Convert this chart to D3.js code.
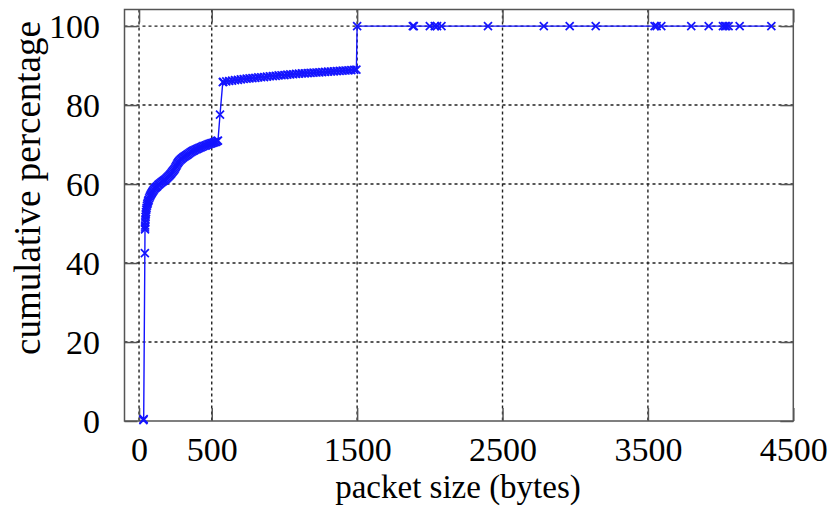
<!DOCTYPE html>
<html>
<head>
<meta charset="utf-8">
<script src="https://cdn.jsdelivr.net/npm/d3@7/dist/d3.min.js"></script>
<style>
  html, body { margin: 0; padding: 0; background: #fff; }
  svg { display: block; font-family: "Liberation Serif", "DejaVu Serif", serif; }
</style>
</head>
<body>
<svg id="chart" width="835" height="506"></svg>
<script>
// ---- data ----
const packetSizes = [
  30, 32, 40, 41, 41.5, 42, 43, 44, 45, 46, 48, 50, 52, 54, 57, 60, 63, 66, 70, 74, 78, 82,
  87, 92, 97, 102, 108, 114, 120, 126, 133, 140, 147, 154, 161, 168, 175, 182, 189, 196,
  203, 210, 216, 222, 228, 234, 240, 246, 251, 256, 261, 266, 272, 278, 285, 292, 299, 306,
  314, 322, 330, 338, 346, 354, 362, 370, 379, 388, 397, 406, 415, 424, 433, 442, 451, 460,
  469, 478, 487, 496, 504, 512, 520, 528, 536, 543, 557, 576,
  580, 600, 620, 640, 660, 680, 700, 720, 740, 760, 780, 800, 820, 840, 860, 880, 900,
  920, 940, 960, 980, 1000, 1020, 1040, 1060, 1080, 1100, 1120, 1140, 1160, 1180, 1200,
  1220, 1240, 1260, 1280, 1300, 1320, 1340, 1360, 1380, 1400, 1420, 1440, 1460, 1480, 1495,
  1500, 1883, 1890, 2000, 2034, 2050, 2080, 2400, 2784, 2962, 3141, 3546, 3560, 3592,
  3798, 3918, 4016, 4030, 4039, 4055, 4131, 4349
];
const cumulativePct = [
  0.2, 0.5, 42.5, 48.5, 49.0, 49.5, 50.3, 51.0, 51.7, 52.3, 52.9, 53.5, 54.0, 54.5, 54.9, 55.3, 55.7, 56.0, 56.4, 56.8, 57.1, 57.4,
  57.7, 58.0, 58.3, 58.6, 58.9, 59.1, 59.3, 59.5, 59.8, 60.0, 60.2, 60.4, 60.6, 60.8, 61.0, 61.2, 61.45, 61.7,
  61.95, 62.2, 62.45, 62.7, 63.0, 63.3, 63.6, 63.9, 64.25, 64.6, 64.95, 65.3, 65.6, 65.9, 66.15, 66.4, 66.6, 66.8,
  67.0, 67.2, 67.4, 67.6, 67.8, 68.0, 68.2, 68.4, 68.55, 68.7, 68.85, 69.0, 69.15, 69.3, 69.45, 69.6, 69.7, 69.8,
  69.95, 70.1, 70.2, 70.3, 70.4, 70.5, 70.6, 70.7, 70.85, 71.0, 77.6, 85.8,
  85.9, 86.0, 86.1, 86.2, 86.3, 86.4, 86.5, 86.6, 86.7, 86.75, 86.8, 86.9, 87.0, 87.05, 87.1, 87.2, 87.3,
  87.35, 87.4, 87.5, 87.55, 87.6, 87.7, 87.75, 87.8, 87.9, 87.95, 88.0, 88.05, 88.1, 88.15, 88.2,
  88.25, 88.3, 88.35, 88.4, 88.45, 88.5, 88.55, 88.6, 88.65, 88.7, 88.75, 88.8, 88.85, 88.9, 89.0,
  100, 100, 100, 100, 100, 100, 100, 100, 100, 100, 100, 100, 100, 100,
  100, 100, 100, 100, 100, 100, 100, 100
];
const xTickValues = [0, 500, 1500, 2500, 3500, 4500];
const yTickValues = [0, 20, 40, 60, 80, 100];
const xTitle = "packet size (bytes)";
const yTitle = "cumulative percentage";

// ---- layout ----
const svg = d3.select("#chart");
const frame = { left: 124.5, right: 793.3, top: 9.5, bottom: 421 };
const x = d3.scaleLinear().domain([-100, 4500]).range([frame.left, frame.right]);
const y = d3.scaleLinear().domain([0, 104.2]).range([frame.bottom, frame.top]);
const points = packetSizes.map((s, i) => [s, cumulativePct[i]]);

const gridColor = "#222";
const frameColor = "#555";
const blue = "#1414ff";
const fontSize = 34;
const fmt = d3.format("d");

// grid lines
const grid = svg.append("g");
grid.selectAll("line.vx").data(xTickValues.filter(v => v < 4500)).join("line")
  .attr("x1", d => x(d)).attr("x2", d => x(d))
  .attr("y1", frame.top).attr("y2", frame.bottom)
  .attr("stroke", gridColor).attr("stroke-width", 1.4).attr("stroke-dasharray", "3,3");
grid.selectAll("line.hy").data(yTickValues.filter(v => v > 0)).join("line")
  .attr("x1", frame.left).attr("x2", frame.right)
  .attr("y1", d => y(d)).attr("y2", d => y(d))
  .attr("stroke", gridColor).attr("stroke-width", 1.4).attr("stroke-dasharray", "3,3");

// axes with inward ticks (mirrored)
const tickLen = 13;
const axB = svg.append("g").attr("transform", `translate(0,${frame.bottom})`)
  .call(d3.axisBottom(x).tickValues(xTickValues).tickSize(-tickLen).tickFormat(fmt).tickSizeOuter(0));
const axT = svg.append("g").attr("transform", `translate(0,${frame.top})`)
  .call(d3.axisTop(x).tickValues(xTickValues).tickSize(-tickLen).tickFormat("").tickSizeOuter(0));
const axL = svg.append("g").attr("transform", `translate(${frame.left},0)`)
  .call(d3.axisLeft(y).tickValues(yTickValues).tickSize(-tickLen).tickFormat(fmt).tickSizeOuter(0));
const axR = svg.append("g").attr("transform", `translate(${frame.right},0)`)
  .call(d3.axisRight(y).tickValues(yTickValues).tickSize(-tickLen).tickFormat("").tickSizeOuter(0));
[axB, axT, axL, axR].forEach(g => {
  g.select(".domain").remove();
  g.selectAll(".tick line").attr("stroke", frameColor).attr("stroke-width", 1.5);
  g.selectAll("text").attr("font-size", fontSize).attr("fill", "#000")
    .attr("font-family", "Liberation Serif, serif");
});
axB.selectAll("text").attr("y", 40).attr("dy", null);
axL.selectAll("text").attr("x", -24.5).attr("dy", "0.34em");

// frame
svg.append("rect")
  .attr("x", frame.left).attr("y", frame.top)
  .attr("width", frame.right - frame.left).attr("height", frame.bottom - frame.top)
  .attr("fill", "none").attr("stroke", frameColor).attr("stroke-width", 1.5);

// series line
const line = d3.line().x(d => x(d[0])).y(d => y(d[1]));
svg.append("path").datum(points)
  .attr("d", line).attr("fill", "none").attr("stroke", blue).attr("stroke-width", 1.4);

// markers (x)
const ms = 4;
svg.append("g").selectAll("path").data(points).join("path")
  .attr("transform", d => `translate(${x(d[0])},${y(d[1])})`)
  .attr("d", `M${-ms},${-ms}L${ms},${ms}M${-ms},${ms}L${ms},${-ms}`)
  .attr("stroke", blue).attr("stroke-width", 1.7).attr("fill", "none");

// titles
svg.append("text").attr("x", 458).attr("y", 498).attr("text-anchor", "middle")
  .attr("font-size", 33).text(xTitle);
svg.append("text").attr("transform", "translate(40,188) rotate(-90)")
  .attr("text-anchor", "middle").attr("font-size", 37).text(yTitle);
</script>
</body>
</html>
